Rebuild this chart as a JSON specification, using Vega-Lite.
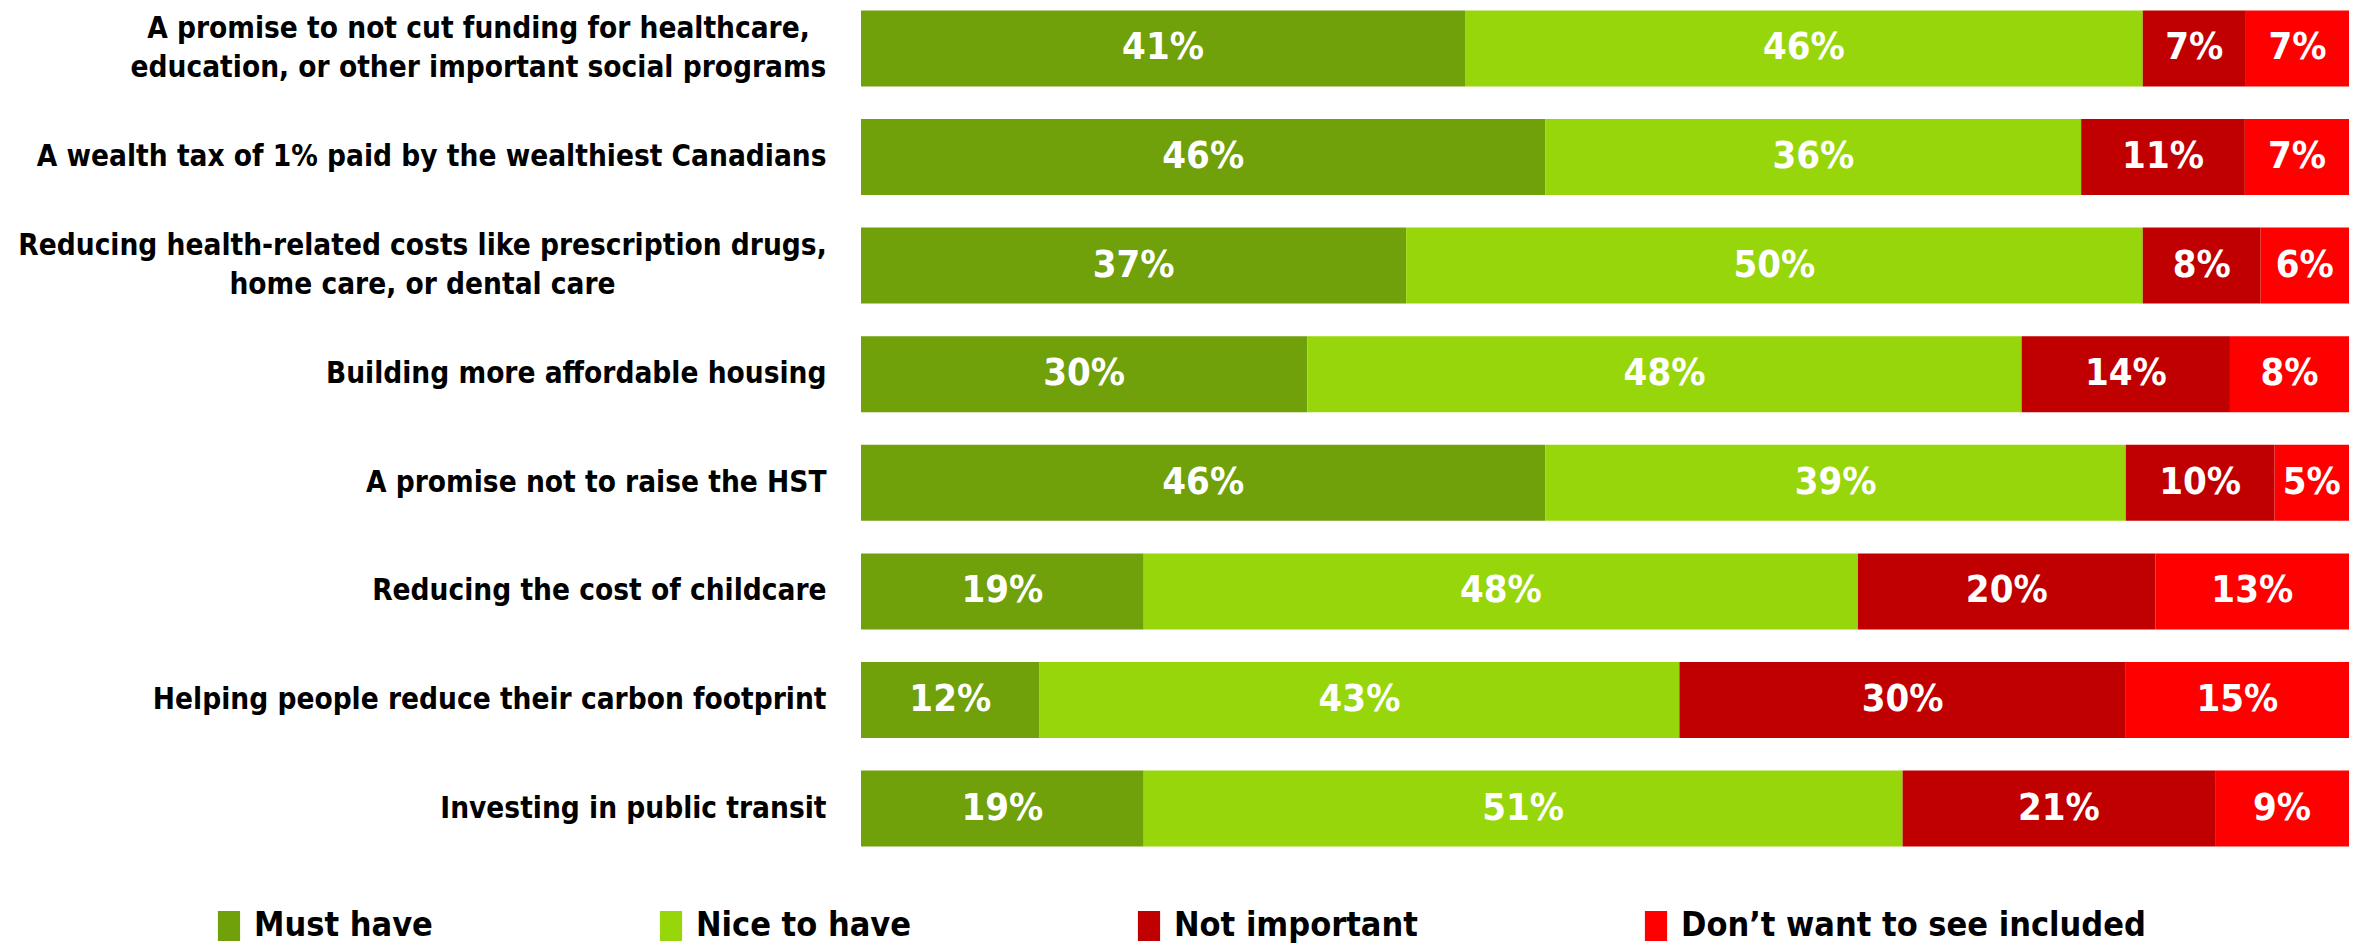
{
  "$schema": "https://vega.github.io/schema/vega-lite/v6.json",
  "width": 1488,
  "height": 847,
  "autosize": {"type": "none"},
  "padding": {"left": 861, "top": 5, "right": 15, "bottom": 94},
  "background": "white",
  "config": {
    "view": {"stroke": null},
    "font": "DejaVu Sans Condensed, DejaVu Sans, sans-serif"
  },
  "data": {
    "values": [
      {"q": "A promise to not cut funding for healthcare,|education, or other important social programs", "cat": "Must have", "k": 1, "v": 0.41},
      {"q": "A promise to not cut funding for healthcare,|education, or other important social programs", "cat": "Nice to have", "k": 2, "v": 0.46},
      {"q": "A promise to not cut funding for healthcare,|education, or other important social programs", "cat": "Not important", "k": 3, "v": 0.07},
      {"q": "A promise to not cut funding for healthcare,|education, or other important social programs", "cat": "Don’t want to see included", "k": 4, "v": 0.07},
      {"q": "A wealth tax of 1% paid by the wealthiest Canadians", "cat": "Must have", "k": 1, "v": 0.46},
      {"q": "A wealth tax of 1% paid by the wealthiest Canadians", "cat": "Nice to have", "k": 2, "v": 0.36},
      {"q": "A wealth tax of 1% paid by the wealthiest Canadians", "cat": "Not important", "k": 3, "v": 0.11},
      {"q": "A wealth tax of 1% paid by the wealthiest Canadians", "cat": "Don’t want to see included", "k": 4, "v": 0.07},
      {"q": "Reducing health-related costs like prescription drugs,|home care, or dental care", "cat": "Must have", "k": 1, "v": 0.37},
      {"q": "Reducing health-related costs like prescription drugs,|home care, or dental care", "cat": "Nice to have", "k": 2, "v": 0.50},
      {"q": "Reducing health-related costs like prescription drugs,|home care, or dental care", "cat": "Not important", "k": 3, "v": 0.08},
      {"q": "Reducing health-related costs like prescription drugs,|home care, or dental care", "cat": "Don’t want to see included", "k": 4, "v": 0.06},
      {"q": "Building more affordable housing\u00a0", "cat": "Must have", "k": 1, "v": 0.30},
      {"q": "Building more affordable housing\u00a0", "cat": "Nice to have", "k": 2, "v": 0.48},
      {"q": "Building more affordable housing\u00a0", "cat": "Not important", "k": 3, "v": 0.14},
      {"q": "Building more affordable housing\u00a0", "cat": "Don’t want to see included", "k": 4, "v": 0.08},
      {"q": "A promise not to raise the HST\u00a0", "cat": "Must have", "k": 1, "v": 0.46},
      {"q": "A promise not to raise the HST\u00a0", "cat": "Nice to have", "k": 2, "v": 0.39},
      {"q": "A promise not to raise the HST\u00a0", "cat": "Not important", "k": 3, "v": 0.10},
      {"q": "A promise not to raise the HST\u00a0", "cat": "Don’t want to see included", "k": 4, "v": 0.05},
      {"q": "Reducing the cost of childcare", "cat": "Must have", "k": 1, "v": 0.19},
      {"q": "Reducing the cost of childcare", "cat": "Nice to have", "k": 2, "v": 0.48},
      {"q": "Reducing the cost of childcare", "cat": "Not important", "k": 3, "v": 0.20},
      {"q": "Reducing the cost of childcare", "cat": "Don’t want to see included", "k": 4, "v": 0.13},
      {"q": "Helping people reduce their carbon footprint", "cat": "Must have", "k": 1, "v": 0.12},
      {"q": "Helping people reduce their carbon footprint", "cat": "Nice to have", "k": 2, "v": 0.43},
      {"q": "Helping people reduce their carbon footprint", "cat": "Not important", "k": 3, "v": 0.30},
      {"q": "Helping people reduce their carbon footprint", "cat": "Don’t want to see included", "k": 4, "v": 0.15},
      {"q": "Investing in public transit", "cat": "Must have", "k": 1, "v": 0.19},
      {"q": "Investing in public transit", "cat": "Nice to have", "k": 2, "v": 0.51},
      {"q": "Investing in public transit", "cat": "Not important", "k": 3, "v": 0.21},
      {"q": "Investing in public transit", "cat": "Don’t want to see included", "k": 4, "v": 0.09}
    ]
  },
  "encoding": {
    "y": {
      "field": "q",
      "type": "nominal",
      "sort": null,
      "scale": {"paddingInner": 0.3, "paddingOuter": 0.05},
      "axis": {
        "title": null,
        "domain": false,
        "ticks": false,
        "labelPadding": {"expr": "indexof(datum.value, 'A promise to not') == 0 ? 383 : (indexof(datum.value, 'Reducing health') == 0 ? 439 : 35)"},
        "labelAlign": {"expr": "indexof(datum.value, '|') >= 0 ? 'center' : 'right'"},
        "labelFontSize": 29.5,
        "labelFontWeight": "bold",
        "labelColor": "black",
        "labelLimit": 2000,
        "labelExpr": "split(datum.label, '|')",
        "labelLineHeight": 39,
        "labelOffset": {"expr": "indexof(datum.value, '|') >= 0 ? -19.5 : 0"}
      }
    },
    "x": {"field": "v", "type": "quantitative", "stack": "normalize", "axis": null},
    "order": {"field": "k", "type": "quantitative"}
  },
  "layer": [
    {
      "mark": {"type": "bar"},
      "encoding": {
        "color": {
          "field": "cat",
          "type": "nominal",
          "sort": ["Must have", "Nice to have", "Not important", "Don’t want to see included"],
          "scale": {
            "domain": ["Must have", "Nice to have", "Not important", "Don’t want to see included"],
            "range": ["#70A00A", "#97D60A", "#C00000", "#FF0000"]
          },
          "legend": {
            "title": null,
            "orient": "none",
            "legendX": -649,
            "legendY": 904,
            "direction": "horizontal",
            "columns": 4,
            "columnPadding": 221,
            "symbolType": "M-0.74,-1H0.74V1H-0.74Z",
            "symbolSize": 900,
            "symbolStrokeWidth": 0,
            "labelFontSize": 34,
            "labelFontWeight": "bold",
            "labelColor": "black",
            "labelOffset": 8,
            "labelLimit": 2000
          }
        }
      }
    },
    {
      "mark": {"type": "text", "color": "white", "fontSize": 38, "fontWeight": "bold", "baseline": "middle", "align": "center"},
      "encoding": {
        "x": {"field": "v", "type": "quantitative", "stack": "normalize", "bandPosition": 0.5},
        "detail": {"field": "cat"},
        "text": {"field": "v", "type": "quantitative", "format": ".0%"}
      }
    }
  ]
}
